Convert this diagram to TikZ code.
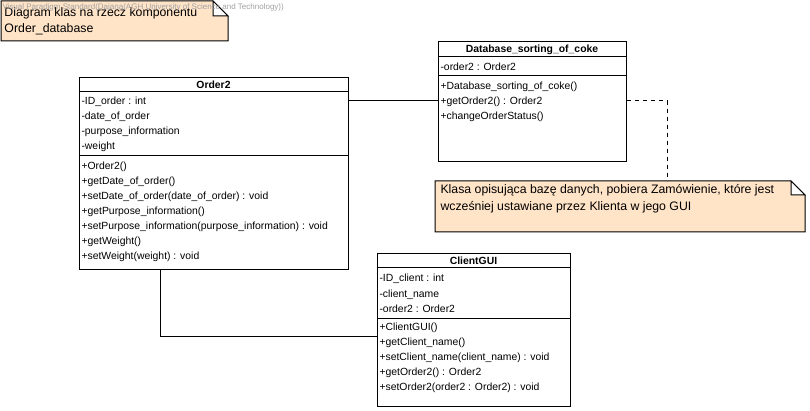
\documentclass[tikz,border=0pt]{standalone}
\usepackage{fontspec}
\setmainfont{Liberation Sans}
\usetikzlibrary{positioning}
\definecolor{notefill}{RGB}{255,228,200}
\definecolor{wmgray}{RGB}{160,160,160}
\begin{document}
\begin{tikzpicture}[x=1pt,y=-1pt,line width=1pt,
  cls/.style={draw,fill=white,anchor=north west,inner sep=0},
  notebox/.style={anchor=north west,inner sep=0},
  txt/.style={anchor=base west,inner sep=0,font=\fontsize{10.4}{12}\selectfont},
  ttl/.style={anchor=base,inner sep=0,font=\fontsize{10.4}{12}\selectfont\bfseries},
  notetxt/.style={anchor=base west,inner sep=0,font=\fontsize{12.3}{14}\selectfont}]
\useasboundingbox (0,0) rectangle (810,411);

% note at the top
\node[notebox,minimum width=226pt,minimum height=39pt] (head) at (1,1) {};
\filldraw[fill=notefill] (head.north west) -- ([xshift=-15pt]head.north east) -- ([yshift=-15pt]head.north east) -- (head.south east) -- (head.south west) -- cycle;
\filldraw[fill=white] ([xshift=-15pt]head.north east) -- ++(0,15) -- ++(15,0) -- cycle;
\node[notetxt] (head1) at (4,17) {Diagram klas na rzecz komponentu};
\node[notetxt] (head2) at (4,33) {Order\_database};

% Order2
\node[cls,minimum width=269pt,minimum height=192pt] (order) at (79,77) {};
\draw (79,92) -- (348,92) (79,156) -- (348,156);
\node[ttl] (orderT) at (213.5,89) {Order2};
\foreach \t [count=\i] in {-ID\_order : int,-date\_of\_order,-purpose\_information,-weight}
  \node[txt] (oa\i) at (81,90+15*\i) {\t};
\foreach \t [count=\i] in {+Order2(),+getDate\_of\_order(),+setDate\_of\_order(date\_of\_order) : void,
  +getPurpose\_information(),+setPurpose\_information(purpose\_information) : void,+getWeight(),
  +setWeight(weight) : void}
  \node[txt] (om\i) at (81,154+15.1*\i) {\t};

% Database_sorting_of_coke
\node[cls,minimum width=188pt,minimum height=120pt] (db) at (438,41) {};
\draw (438,57) -- (626,57) (438,76) -- (626,76);
\node[ttl] (dbT) at (532,53) {Database\_sorting\_of\_coke};
\node[txt] (da1) at (440,71) {-order2 : Order2};
\foreach \t [count=\i] in {+Database\_sorting\_of\_coke(),+getOrder2() : Order2,+changeOrderStatus()}
  \node[txt] (dm\i) at (440,75+15*\i) {\t};

% ClientGUI
\node[cls,minimum width=193pt,minimum height=153pt] (gui) at (377,253) {};
\draw (377,268) -- (570,268) (377,318) -- (570,318);
\node[ttl] (guiT) at (473.5,265) {ClientGUI};
\foreach \t [count=\i] in {-ID\_client : int,-client\_name,-order2 : Order2}
  \node[txt] (ga\i) at (379,267+15*\i) {\t};
\foreach \t [count=\i] in {+ClientGUI(),+getClient\_name(),+setClient\_name(client\_name) : void,
  +getOrder2() : Order2,+setOrder2(order2 : Order2) : void}
  \node[txt] (gm\i) at (379,315+15*\i) {\t};

% note on the right
\node[notebox,minimum width=369pt,minimum height=50pt] (note) at (435,181) {};
\filldraw[fill=notefill] (note.north west) -- ([xshift=-14pt]note.north east) -- ([yshift=-14pt]note.north east) -- (note.south east) -- (note.south west) -- cycle;
\filldraw[fill=white] ([xshift=-14pt]note.north east) -- ++(0,14) -- ++(14,0) -- cycle;
\node[notetxt] (note1) at (440,194) {Klasa opisująca bazę danych, pobiera Zamówienie, które jest};
\node[notetxt] (note2) at (440,211) {wcześniej ustawiane przez Klienta w jego GUI};

% links
\draw ([yshift=-24pt]order.north east) -- ([yshift=-24pt]order.north east -| db.west);
\draw ([xshift=81pt]order.south west) |- ([yshift=-83pt]gui.north west);
\draw[dash pattern=on 4pt off 4pt] ([yshift=-60pt]db.north east) -| ([xshift=232pt]note.north west);

\node[anchor=base west,inner sep=0,text=wmgray,font=\fontsize{8}{9}\selectfont] (wm) at (2,9.5)
  {Visual Paradigm Standard(Dajana(AGH University of Science and Technology))};
\end{tikzpicture}
\end{document}
